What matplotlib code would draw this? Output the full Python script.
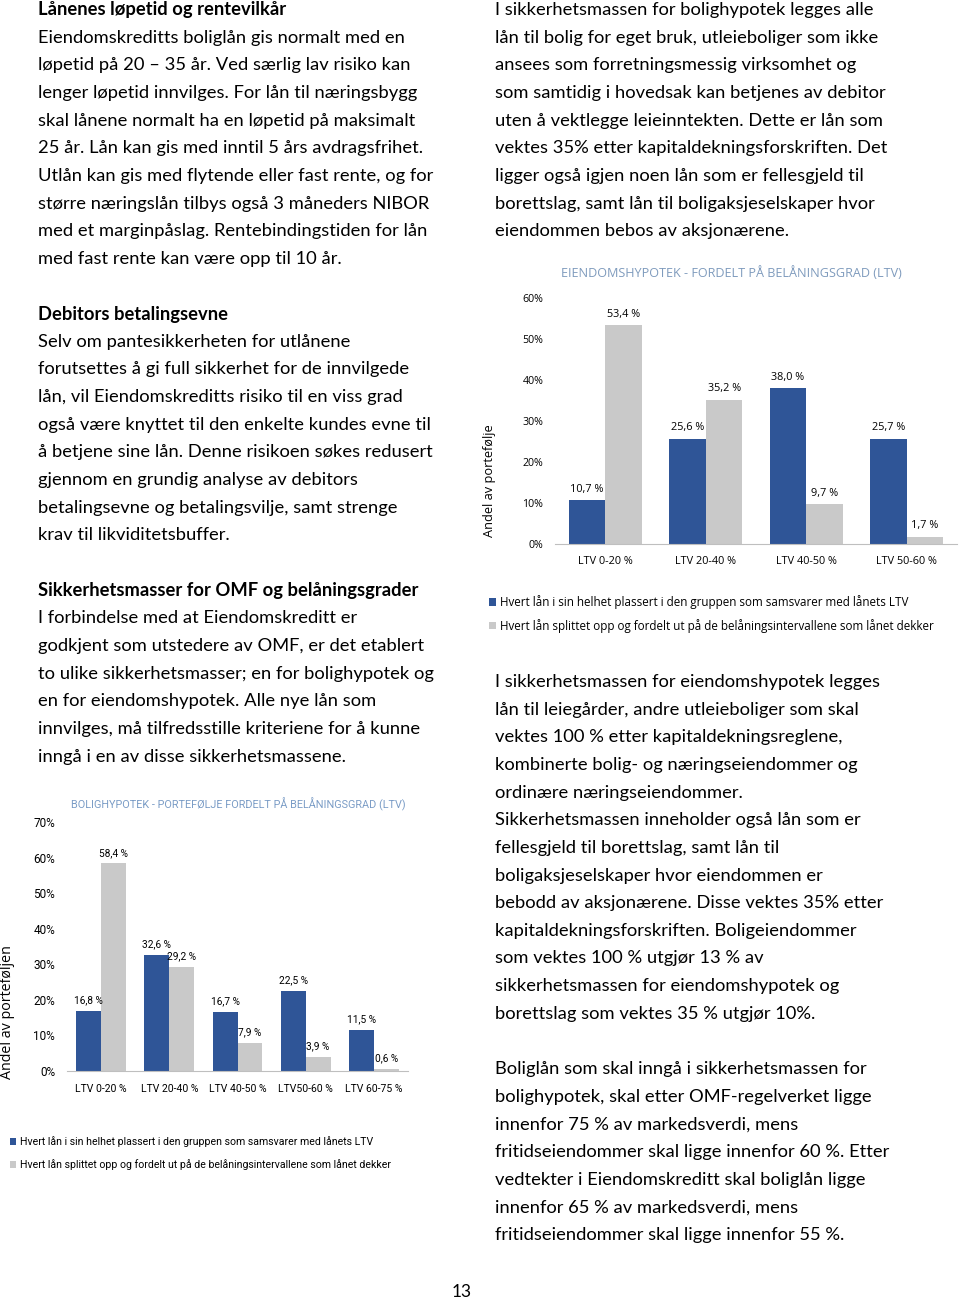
import matplotlib
matplotlib.use("Agg")
import matplotlib.pyplot as plt
import numpy as np

W, H = 960, 1301

# chart data: eiendomshypotek
eiendom_cats = ["LTV 0-20 %", "LTV 20-40 %", "LTV 40-50 %", "LTV 50-60 %"]
eiendom_whole = [10.7, 25.6, 38.0, 25.7]
eiendom_split = [53.4, 35.2, 9.7, 1.7]
eiendom_yticks = [0, 10, 20, 30, 40, 50, 60]

# chart data: bolighypotek
bolig_cats = ["LTV 0-20 %", "LTV 20-40 %", "LTV 40-50 %", "LTV50-60 %", "LTV 60-75 %"]
bolig_whole = [16.8, 32.6, 16.7, 22.5, 11.5]
bolig_split = [58.4, 29.2, 7.9, 3.9, 0.6]
bolig_yticks = [0, 10, 20, 30, 40, 50, 60, 70]

legend_labels = [
    "Hvert lån i sin helhet plassert i den gruppen som samsvarer med lånets LTV",
    "Hvert lån splittet opp og fordelt ut på de belåningsintervallene som lånet dekker",
]

left_text = [
    ("Lånenes løpetid og rentevilkår", True),
    ("Eiendomskreditts boliglån gis normalt med en", False),
    ("løpetid på 20 – 35 år. Ved særlig lav risiko kan", False),
    ("lenger løpetid innvilges. For lån til næringsbygg", False),
    ("skal lånene normalt ha en løpetid på maksimalt", False),
    ("25 år. Lån kan gis med inntil 5 års avdragsfrihet.", False),
    ("Utlån kan gis med flytende eller fast rente, og for", False),
    ("større næringslån tilbys også 3 måneders NIBOR", False),
    ("med et marginpåslag. Rentebindingstiden for lån", False),
    ("med fast rente kan være opp til 10 år.", False),
    ("", False),
    ("Debitors betalingsevne", True),
    ("Selv om pantesikkerheten for utlånene", False),
    ("forutsettes å gi full sikkerhet for de innvilgede", False),
    ("lån, vil Eiendomskreditts risiko til en viss grad", False),
    ("også være knyttet til den enkelte kundes evne til", False),
    ("å betjene sine lån. Denne risikoen søkes redusert", False),
    ("gjennom en grundig analyse av debitors", False),
    ("betalingsevne og betalingsvilje, samt strenge", False),
    ("krav til likviditetsbuffer.", False),
    ("", False),
    ("Sikkerhetsmasser for OMF og belåningsgrader", True),
    ("I forbindelse med at Eiendomskreditt er", False),
    ("godkjent som utstedere av OMF, er det etablert", False),
    ("to ulike sikkerhetsmasser; en for bolighypotek og", False),
    ("en for eiendomshypotek. Alle nye lån som", False),
    ("innvilges, må tilfredsstille kriteriene for å kunne", False),
    ("inngå i en av disse sikkerhetsmassene.", False),
]

right_top = [
    "I sikkerhetsmassen for bolighypotek legges alle",
    "lån til bolig for eget bruk, utleieboliger som ikke",
    "ansees som forretningsmessig virksomhet og",
    "som samtidig i hovedsak kan betjenes av debitor",
    "uten å vektlegge leieinntekten. Dette er lån som",
    "vektes 35% etter kapitaldekningsforskriften. Det",
    "ligger også igjen noen lån som er fellesgjeld til",
    "borettslag, samt lån til boligaksjeselskaper hvor",
    "eiendommen bebos av aksjonærene.",
]

right_mid = [
    "I sikkerhetsmassen for eiendomshypotek legges",
    "lån til leiegårder, andre utleieboliger som skal",
    "vektes 100 % etter kapitaldekningsreglene,",
    "kombinerte bolig- og næringseiendommer og",
    "ordinære næringseiendommer.",
    "Sikkerhetsmassen inneholder også lån som er",
    "fellesgjeld til borettslag, samt lån til",
    "boligaksjeselskaper hvor eiendommen er",
    "bebodd av aksjonærene. Disse vektes 35% etter",
    "kapitaldekningsforskriften. Boligeiendommer",
    "som vektes 100 % utgjør 13 % av",
    "sikkerhetsmassen for eiendomshypotek og",
    "borettslag som vektes 35 % utgjør 10%.",
    "",
    "Boliglån som skal inngå i sikkerhetsmassen for",
    "bolighypotek, skal etter OMF-regelverket ligge",
    "innenfor 75 % av markedsverdi, mens",
    "fritidseiendommer skal ligge innenfor 60 %. Etter",
    "vedtekter i Eiendomskreditt skal boliglån ligge",
    "innenfor 65 % av markedsverdi, mens",
    "fritidseiendommer skal ligge innenfor 55 %.",
]

BLUE = "#2F5597"
GRAY = "#C9C9C9"
BODY = ["Lato", "DejaVu Sans"]
WIDE = ["Open Sans", "DejaVu Sans"]
NARROW = ["Roboto", "DejaVu Sans"]


def fx(px):
    return px / W


def fy(py):
    return 1 - py / H


fig = plt.figure(figsize=(W / 100, H / 100), dpi=100)

# body text
step = 27.65
for i, (line, bold) in enumerate(left_text):
    fig.text(fx(38), fy(10 + i * step), line, fontsize=13.25, family=BODY,
             fontweight="bold" if bold else "normal", va="center", ha="left")
for i, line in enumerate(right_top):
    fig.text(fx(495), fy(10 + i * step), line, fontsize=13.25, family=BODY,
             va="center", ha="left")
for i, line in enumerate(right_mid):
    fig.text(fx(495), fy(682 + i * step), line, fontsize=13.25, family=BODY,
             va="center", ha="left")

fig.text(fx(462), fy(1292), "13", fontsize=12.5, family=BODY, va="center", ha="center")


def draw_chart(ax, cats, whole, split, yticks, font, fs_tick, fs_lab, fs_x):
    x = np.arange(len(cats))
    bw = 0.365
    b1 = ax.bar(x - bw / 2, whole, bw, color=BLUE)
    b2 = ax.bar(x + bw / 2, split, bw, color=GRAY)
    for bars, vals in ((b1, whole), (b2, split)):
        for r, v in zip(bars, vals):
            ax.annotate(f"{v:.1f} %".replace(".", ","),
                        (r.get_x() + r.get_width() / 2, v),
                        xytext=(0, 4), textcoords="offset points",
                        ha="center", va="bottom", fontsize=fs_lab, family=font)
    ax.set_xlim(-0.5, len(cats) - 0.5)
    ax.set_ylim(0, yticks[-1])
    ax.set_yticks(yticks)
    ax.set_yticklabels([f"{t}%" for t in yticks], family=font, fontsize=fs_tick)
    ax.set_xticks(x)
    ax.set_xticklabels(cats, family=font, fontsize=fs_x)
    ax.tick_params(axis="y", length=0, pad=8.5)
    ax.tick_params(axis="x", length=0, pad=9)
    for s in ("top", "right", "left"):
        ax.spines[s].set_visible(False)
    ax.spines["bottom"].set_color("#BFBFBF")
    return b1, b2


# eiendomshypotek chart
ax1 = fig.add_axes([fx(555), fy(544), fx(402), (544 - 298) / H])
h1 = draw_chart(ax1, eiendom_cats, eiendom_whole, eiendom_split, eiendom_yticks,
                WIDE, 7.7, 7.8, 7.8)
fig.text(fx(731), fy(273), "EIENDOMSHYPOTEK - FORDELT PÅ BELÅNINGSGRAD (LTV)",
         fontsize=9.1, family=WIDE, color="#7F9BBD", ha="center", va="center")
fig.text(fx(489), fy(481), "Andel av portefølje", rotation=90, fontsize=9.2,
         family=WIDE, ha="center", va="center")
fig.legend(h1, legend_labels, loc="upper left", bbox_to_anchor=(fx(489), fy(595)),
           frameon=False, prop={"family": WIDE, "size": 8.4},
           handlelength=0.6, handleheight=0.6, handletextpad=0.3, labelspacing=0.85,
           borderaxespad=0, borderpad=0)

# bolighypotek chart
ax2 = fig.add_axes([fx(67), fy(1071), fx(341), (1071 - 822) / H])
h2 = draw_chart(ax2, bolig_cats, bolig_whole, bolig_split, bolig_yticks,
                NARROW, 8.5, 7.3, 7.5)
fig.text(fx(238), fy(804), "BOLIGHYPOTEK - PORTEFØLJE FORDELT PÅ BELÅNINGSGRAD (LTV)",
         fontsize=7.8, family=NARROW, color="#7A9CC6", ha="center", va="center")
fig.text(fx(8), fy(1012), "Andel av porteføljen", rotation=90, fontsize=10.3,
         family=WIDE, ha="center", va="center")
fig.legend(h2, legend_labels, loc="upper left", bbox_to_anchor=(fx(10), fy(1136)),
           frameon=False, prop={"family": NARROW, "size": 7.6},
           handlelength=0.6, handleheight=0.6, handletextpad=0.3, labelspacing=1.15,
           borderaxespad=0, borderpad=0)

fig.savefig("out.png", dpi=100)
